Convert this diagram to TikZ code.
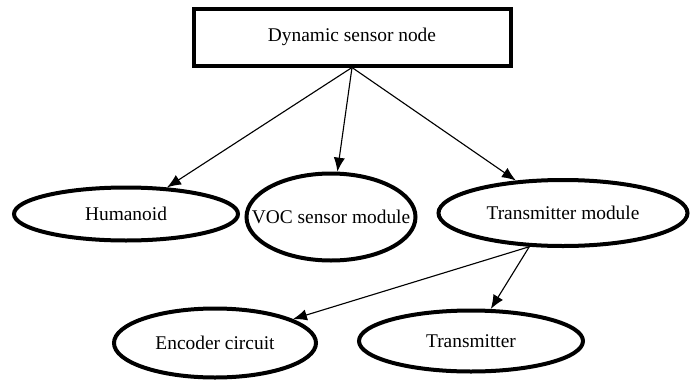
\documentclass[tikz,border=0pt]{standalone}
\usepackage{fontspec}
\setmainfont{Liberation Serif}
\usetikzlibrary{shapes.geometric,arrows.meta}
\begin{document}
\begin{tikzpicture}[font=\fontsize{13.8}{16}\selectfont,
	blob/.style={draw,ellipse,line width=1mm,inner sep=0pt},
	link/.style={-{Latex[length=3.5mm,width=2.8mm]},line width=0.8pt}]
	\useasboundingbox (0,0) rectangle (17.325,-9.525);
	\node[draw,line width=1mm,minimum width=7.925cm,minimum height=1.425cm] (A) at (8.8,-0.925) {Dynamic sensor node};
	\node[blob,minimum width=5.6cm,minimum height=1.325cm] (B) at (3.15,-5.35) {Humanoid};
	\node[blob,inner xsep=-0.5cm,minimum width=4.225cm,minimum height=2.175cm] (C) at (8.275,-5.425) {VOC sensor module};
	\node[blob,minimum width=6.225cm,minimum height=1.65cm] (D) at (14.075,-5.325) {Transmitter module};
	\node[blob,minimum width=5.05cm,minimum height=1.725cm] (E) at (5.375,-8.575) {Encoder circuit};
	\node[blob,minimum width=5.6cm,minimum height=1.525cm] (F) at (11.775,-8.525) {Transmitter};
	\draw[link] (A.south) -- (B);
	\draw[link] (A.south) -- (C);
	\draw[link] (A.south) -- (D);
	\draw[link] (D.225) -- (E);
	\draw[link] (D.225) -- (F);
\end{tikzpicture}
\end{document}
